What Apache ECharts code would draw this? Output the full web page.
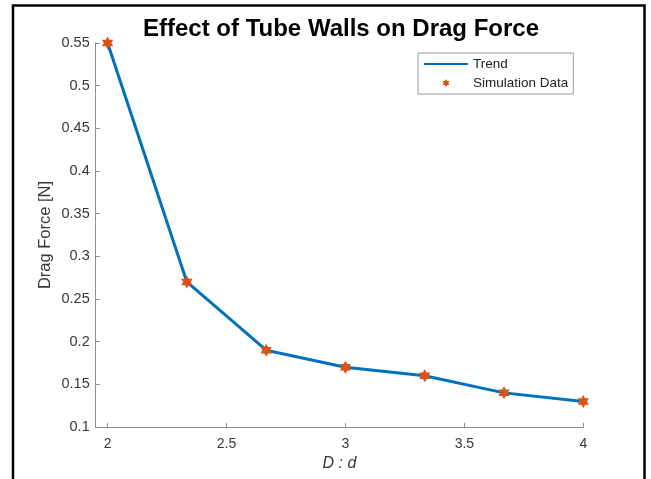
<!DOCTYPE html>
<html>
<head>
<meta charset="utf-8">
<script src="https://cdn.jsdelivr.net/npm/echarts@6/dist/echarts.min.js"></script>
<style>
  html, body { margin: 0; padding: 0; background: #fff; }
  #chart { width: 651px; height: 479px; }
</style>
</head>
<body>
<div id="chart"></div>
<script>
// Diameter ratio D:d and the measured drag force at each ratio
const ratios = [2, 2.3333, 2.6667, 3, 3.3333, 3.6667, 4];
const dragForce = [0.55, 0.27, 0.19, 0.17, 0.16, 0.14, 0.13];

// Tick positions on both axes
const xTicks = [2, 2.5, 3, 3.5, 4];
const yTicks = [0.1, 0.15, 0.2, 0.25, 0.3, 0.35, 0.4, 0.45, 0.5, 0.55];

const FONT = '"Liberation Sans", Arial, Helvetica, sans-serif';
const LINE_BLUE = '#0072BD';
const MARK_ORANGE = '#D95319';
const AXIS_GRAY = '#8f8f8f';
const TEXT_GRAY = '#383838';

// Six-pointed star (hexagram) marker
const HEXAGRAM = 'path://M87,0 L116,50 L174,50 L145,100 L174,150 L116,150 L87,200 L58,150 L0,150 L29,100 L0,50 L58,50 Z';

const pairs = ratios.map((r, i) => [r, dragForce[i]]);

const chart = echarts.init(document.getElementById('chart'), null, { renderer: 'canvas' });

chart.setOption({
  backgroundColor: '#ffffff',
  animation: false,
  title: {
    text: 'Effect of Tube Walls on Drag Force',
    left: 143,
    top: 17,
    padding: 0,
    textStyle: { fontFamily: FONT, fontSize: 24, fontWeight: 'bold', color: '#000' }
  },
  legend: {
    orient: 'vertical',
    left: 418,
    top: 53,
    padding: [4, 5, 4, 5],
    itemWidth: 44,
    itemHeight: 8,
    itemGap: 5,
    itemTextGap: 5,
    backgroundColor: '#fff',
    borderColor: '#9a9a9a',
    borderWidth: 1,
    textStyle: { fontFamily: FONT, fontSize: 13.5, color: '#222' },
    data: [
      { name: 'Trend', itemStyle: { opacity: 0 } },
      { name: 'Simulation Data' }
    ]
  },
  grid: {
    left: 95.7,
    right: 651 - 583.3,
    top: 43,
    bottom: 479 - 427,
    containLabel: false
  },
  xAxis: {
    type: 'value',
    min: 1.95,
    max: 4,
    name: 'D : d',
    nameLocation: 'middle',
    nameGap: 29,
    nameMoveOverlap: false,
    nameTextStyle: { fontFamily: FONT, fontSize: 16, fontStyle: 'italic', color: TEXT_GRAY },
    axisLine: { show: true, onZero: false, lineStyle: { color: AXIS_GRAY, width: 1 } },
    axisTick: { show: true, inside: true, length: 4, customValues: xTicks, lineStyle: { color: AXIS_GRAY } },
    axisLabel: {
      customValues: xTicks,
      margin: 10,
      fontFamily: FONT, fontSize: 14, color: TEXT_GRAY,
      formatter: v => String(parseFloat(v.toFixed(2)))
    },
    splitLine: { show: false }
  },
  yAxis: {
    type: 'value',
    min: 0.1,
    max: 0.55,
    name: 'Drag Force [N]',
    nameLocation: 'middle',
    nameGap: 42,
    nameMoveOverlap: false,
    nameTextStyle: { fontFamily: FONT, fontSize: 16.5, color: TEXT_GRAY },
    axisLine: { show: true, onZero: false, lineStyle: { color: AXIS_GRAY, width: 1 } },
    axisTick: { show: true, inside: true, length: 4, customValues: yTicks, lineStyle: { color: AXIS_GRAY } },
    axisLabel: {
      customValues: yTicks,
      margin: 6,
      fontFamily: FONT, fontSize: 14.5, color: TEXT_GRAY,
      formatter: v => String(parseFloat(v.toFixed(2)))
    },
    splitLine: { show: false }
  },
  series: [
    {
      name: 'Trend',
      type: 'line',
      data: pairs,
      symbol: 'none',
      lineStyle: { color: LINE_BLUE, width: 3 },
      itemStyle: { color: LINE_BLUE },
      z: 2
    },
    {
      name: 'Simulation Data',
      type: 'scatter',
      data: pairs,
      symbol: HEXAGRAM,
      symbolSize: 13,
      symbolKeepAspect: true,
      itemStyle: { color: MARK_ORANGE, opacity: 1 },
      z: 3
    }
  ],
  graphic: [
    {
      type: 'rect',
      silent: true,
      shape: { x: 13, y: 5.5, width: 631.5, height: 520 },
      style: { fill: null, stroke: '#000', lineWidth: 2.5 },
      z: 100
    }
  ]
});
</script>
</body>
</html>
